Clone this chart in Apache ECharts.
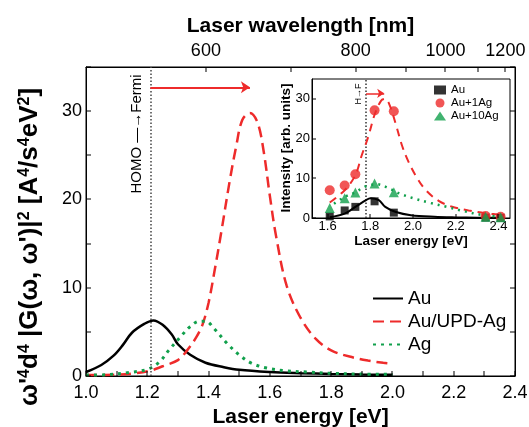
<!DOCTYPE html>
<html><head><meta charset="utf-8">
<script src="https://cdn.jsdelivr.net/npm/echarts@6/dist/echarts.min.js"></script>
<style>html,body{margin:0;padding:0;background:#fff}#c{width:529px;height:427px}</style>
</head><body><div id="c"></div>
<script>
// ---------- main panel data ----------
const auE  = [1.00,1.05,1.09,1.12,1.15,1.19,1.22,1.25,1.28,1.30,1.34,1.39,1.45,1.50,1.60,1.70,1.80,1.90,2.00];
const auV  = [0.45,1.25,2.3,3.5,4.9,5.9,6.3,5.8,4.7,3.6,2.4,1.5,1.0,0.7,0.45,0.32,0.23,0.17,0.13];
const updE = [1.00,1.10,1.16,1.21,1.25,1.30,1.33,1.36,1.38,1.40,1.42,1.44,1.47,1.49,1.51,1.535,1.56,1.58,1.60,1.62,1.655,1.70,1.75,1.80,1.86,1.92,1.97,2.00];
const updV = [0.1,0.15,0.3,0.6,1.1,1.8,2.9,4.4,5.8,8.3,12.0,16.0,22.3,26.0,29.0,29.8,28.7,25.4,20.4,15.9,10.2,6.6,4.2,2.9,2.2,1.75,1.5,1.4];
const agE  = [1.00,1.07,1.14,1.20,1.24,1.27,1.31,1.34,1.37,1.39,1.42,1.46,1.50,1.54,1.59,1.65,1.72,1.80,1.90,2.00];
const agV  = [0.1,0.15,0.4,0.75,1.6,2.9,4.5,5.6,6.2,6.2,5.3,3.7,2.4,1.45,0.9,0.6,0.45,0.3,0.22,0.18];

// ---------- inset data ----------
const insetE   = [1.61,1.68,1.73,1.82,1.91,2.34,2.41];
const insAu    = [0.4,1.9,2.8,4.2,1.35,0.1,0.05];
const insAu1Ag = [7.0,8.2,11.0,27.1,26.9,0.5,0.3];
const insAu10Ag= [2.5,5.0,6.4,8.7,6.5,0.3,0.2];
const fitAuE   = [1.61,1.68,1.73,1.78,1.80,1.84,1.87,1.92,1.99,2.10,2.20,2.30,2.41];
const fitAuV   = [0.2,1.1,2.8,4.5,5.0,4.5,2.8,1.5,0.7,0.3,0.15,0.08,0.05];
const fit1E    = [1.61,1.68,1.73,1.76,1.79,1.82,1.85,1.87,1.89,1.92,1.95,1.98,2.02,2.06,2.12,2.18,2.26,2.34,2.43];
const fit1V    = [3.9,7.0,10.8,15.8,20.4,26.0,29.5,30.0,28.5,23.5,18.0,14.0,10.0,7.0,4.3,2.9,1.9,1.2,0.7];
const fit10E   = [1.63,1.68,1.73,1.78,1.83,1.89,1.94,2.00,2.08,2.16,2.24,2.32,2.41];
const fit10V   = [3.6,5.3,6.5,8.0,8.5,7.4,6.1,5.0,3.8,2.8,1.7,0.8,0.3];

// ---------- axes: ranges, ticks, labels ----------
const mainXMin = 1.0, mainXMax = 2.4, mainYMin = 0, mainYMax = 35;
const mainXTicks = [1.0,1.1,1.2,1.3,1.4,1.5,1.6,1.7,1.8,1.9,2.0,2.1,2.2,2.3,2.4];
const mainYTicks = [0,5,10,15,20,25,30,35];
const wavelengthTicks  = [600,700,800,900,1000,1100,1200];
const wavelengthLabels = [600,800,1000,1200];
const insetXMin = 1.527, insetXMax = 2.454, insetYMin = 0, insetYMax = 35;
const insetXLabels = [1.6,1.8,2.0,2.2,2.4];
const insetYTicks  = [0,10,20,30];

const fermiMain = 1.21, arrowMainY = 32.7, arrowMainEnd = 1.535;
const fermiInset = 1.78, arrowInsetY = 31.4, arrowInsetEnd = 1.865;
const HC = 1239.84;

const RED = '#ee2b2b', GREEN = '#11a04c', FONT = 'Arial, "Liberation Sans", Helvetica, sans-serif';
const zip = (a, b) => a.map((x, i) => [x, b[i]]);

const chart = echarts.init(document.getElementById('c'), null, {renderer: 'canvas'});
const line = () => ({show: true, onZero: false, lineStyle: {color: '#000', width: 1}});
const noTick = {show: false};

const texts = [
  {id: 't0', type: 'text', x: 30, y: 247, rotation: Math.PI / 2, z: 10,
   style: {text: "ω'{s|4}d{s|4} |G(ω, ω')|{s|2} [A{s|4}/s{s|4}eV{s|2}]", fill: '#000',
     font: 'bold 26px ' + FONT, align: 'center', verticalAlign: 'middle',
     rich: {s: {fontSize: 16, fontWeight: 'bold', fontFamily: FONT, verticalAlign: 'top', fill: '#000'}}}},
  {id: 't1', type: 'text', x: 137, y: 134, rotation: Math.PI / 2, z: 10,
   style: {text: 'HOMO \u2014\u2192Fermi', fill: '#000', font: '15px ' + FONT, align: 'center', verticalAlign: 'middle'}},
  {id: 't2', type: 'text', x: 286, y: 148, rotation: Math.PI / 2, z: 10,
   style: {text: 'Intensity [arb. units]', fill: '#000', font: 'bold 13.5px ' + FONT, align: 'center', verticalAlign: 'middle'}},
  {id: 't3', type: 'text', x: 359, y: 94, rotation: Math.PI / 2, z: 10,
   style: {text: 'H\u2192F', fill: '#000', font: '9px ' + FONT, align: 'center', verticalAlign: 'middle'}}
];

chart.setOption({
  animation: false,
  grid: [
    {left: 86, top: 67, width: 429, height: 309, show: true, borderColor: '#000', borderWidth: 1,
     containLabel: false, outerBoundsMode: 'none'},
    {left: 312, top: 79, width: 198, height: 139, show: true, borderColor: '#000', borderWidth: 1, backgroundColor: '#fff',
     containLabel: false, outerBoundsMode: 'none'}
  ],
  xAxis: [
    {gridIndex: 0, type: 'value', position: 'bottom', min: mainXMin, max: mainXMax, interval: 0.2, axisLine: line(),
     axisTick: noTick,
     axisLabel: {fontSize: 18, fontFamily: FONT, color: '#000', margin: 8, formatter: v => v.toFixed(1)},
     splitLine: {show: false},
     name: 'Laser energy [eV]', nameLocation: 'middle', nameGap: 31,
     nameTextStyle: {fontSize: 21, fontWeight: 'bold', fontFamily: FONT, color: '#000'}},
    {gridIndex: 0, type: 'value', position: 'top', inverse: true, min: 1.0, max: 2.48, axisLine: line(),
     axisTick: noTick,
     axisLabel: {customValues: wavelengthLabels.map(l => HC / l), fontSize: 18, fontFamily: FONT, color: '#000', margin: 7,
                 formatter: v => String(Math.round(HC / v))},
     splitLine: {show: false},
     name: 'Laser wavelength [nm]', nameLocation: 'middle', nameGap: 25,
     nameTextStyle: {fontSize: 21, fontWeight: 'bold', fontFamily: FONT, color: '#000'}},
    {gridIndex: 1, type: 'value', min: insetXMin, max: insetXMax, axisLine: line(),
     axisTick: noTick,
     axisLabel: {customValues: insetXLabels, fontSize: 13, fontFamily: FONT, color: '#000', margin: 2, formatter: v => v.toFixed(1)},
     splitLine: {show: false},
     name: 'Laser energy [eV]', nameLocation: 'middle', nameGap: 16,
     nameTextStyle: {fontSize: 13.5, fontWeight: 'bold', fontFamily: FONT, color: '#000'}}
  ],
  yAxis: [
    {gridIndex: 0, type: 'value', min: mainYMin, max: mainYMax, interval: 10, axisLine: line(),
     axisTick: noTick,
     axisLabel: {fontSize: 18, fontFamily: FONT, color: '#000', margin: 4, showMaxLabel: false},
     splitLine: {show: false}},
    {gridIndex: 0, type: 'value', position: 'right', min: mainYMin, max: mainYMax, interval: 10, axisLine: line(),
     axisTick: noTick, axisLabel: {show: false}, splitLine: {show: false}},
    {gridIndex: 1, type: 'value', min: insetYMin, max: insetYMax, interval: 10, axisLine: line(),
     axisTick: noTick,
     axisLabel: {fontSize: 13, fontFamily: FONT, color: '#000', margin: 2, showMaxLabel: false},
     splitLine: {show: false}}
  ],
  legend: [
    {data: ['Au', 'Au/UPD-Ag', 'Ag'], orient: 'vertical', left: 372, top: 289, padding: 0,
     itemWidth: 30, itemHeight: 14, itemGap: 4, itemStyle: {opacity: 0},
     textStyle: {fontSize: 19, fontFamily: FONT, color: '#000'}, selectedMode: false},
    {data: ['Au (inset)', 'Au+1Ag', 'Au+10Ag'], orient: 'vertical', left: 434, top: 84, padding: 0, z: 8,
     itemWidth: 12, itemHeight: 9, itemGap: 1, textStyle: {fontSize: 11.5, fontFamily: FONT, color: '#000'}, selectedMode: false,
     formatter: n => n === 'Au (inset)' ? 'Au' : n}
  ],
  series: [
    {name: 'Au', type: 'line', xAxisIndex: 0, yAxisIndex: 0, data: zip(auE, auV), smooth: 0.35, symbol: 'none',
     lineStyle: {color: '#000', width: 2.5}, itemStyle: {color: '#000'},
     markLine: {silent: true, symbol: 'none', label: {show: false},
       lineStyle: {color: '#444', width: 1.5, type: [1.5, 2]}, data: [{xAxis: fermiMain}]}},
    {name: 'Au/UPD-Ag', type: 'line', xAxisIndex: 0, yAxisIndex: 0, data: zip(updE, updV), smooth: 0.35, symbol: 'none',
     lineStyle: {color: RED, width: 2.5, type: [11, 6]}, itemStyle: {color: RED},
     markLine: {silent: true, symbol: ['none', 'arrow'], symbolSize: 9, label: {show: false},
       lineStyle: {color: RED, width: 2, type: 'solid'},
       data: [[{coord: [fermiMain, arrowMainY]}, {coord: [arrowMainEnd, arrowMainY]}]]}},
    {name: 'Ag', type: 'line', xAxisIndex: 0, yAxisIndex: 0, data: zip(agE, agV), smooth: 0.35, symbol: 'none',
     lineStyle: {color: GREEN, width: 3, type: [3, 5]}, itemStyle: {color: GREEN}},

    {name: 'fitAu', type: 'line', xAxisIndex: 2, yAxisIndex: 2, data: zip(fitAuE, fitAuV), smooth: 0.35, symbol: 'none', z: 7,
     lineStyle: {color: '#000', width: 2}, itemStyle: {color: '#000'},
     markLine: {silent: true, symbol: 'none', label: {show: false},
       lineStyle: {color: '#333', width: 1.5, type: [1.5, 2]}, data: [{xAxis: fermiInset}]}},
    {name: 'fit1Ag', type: 'line', xAxisIndex: 2, yAxisIndex: 2, data: zip(fit1E, fit1V), smooth: 0.35, symbol: 'none', z: 7,
     lineStyle: {color: RED, width: 2, type: [8, 6]}, itemStyle: {color: RED},
     markLine: {silent: true, symbol: ['none', 'arrow'], symbolSize: 7, label: {show: false},
       lineStyle: {color: RED, width: 1.5, type: 'solid'},
       data: [[{coord: [fermiInset, arrowInsetY]}, {coord: [arrowInsetEnd, arrowInsetY]}]]}},
    {name: 'fit10Ag', type: 'line', xAxisIndex: 2, yAxisIndex: 2, data: zip(fit10E, fit10V), smooth: 0.35, symbol: 'none', z: 7,
     lineStyle: {color: GREEN, width: 2.5, type: [2, 5]}, itemStyle: {color: GREEN}},

    {name: 'Au (inset)', type: 'scatter', xAxisIndex: 2, yAxisIndex: 2, data: zip(insetE, insAu), z: 8,
     symbol: 'rect', symbolSize: 8, itemStyle: {color: '#000'}},
    {name: 'Au+1Ag', type: 'scatter', xAxisIndex: 2, yAxisIndex: 2, data: zip(insetE, insAu1Ag), z: 8,
     symbol: 'circle', symbolSize: 10, itemStyle: {color: RED}},
    {name: 'Au+10Ag', type: 'scatter', xAxisIndex: 2, yAxisIndex: 2, data: zip(insetE, insAu10Ag), z: 8,
     symbol: 'triangle', symbolSize: 10, itemStyle: {color: GREEN}}
  ],
  graphic: texts
});

// inside tick marks: positions come from the axes' own scales (convertToPixel)
const toX = (i, v) => chart.convertToPixel({xAxisIndex: i}, v);
const toY = (j, v) => chart.convertToPixel({yAxisIndex: j}, v);
const ticks = [];
let k = 0;
const addTick = (x, y, w, h) => ticks.push({id: 'k' + (k++), type: 'rect', silent: true, z: 50,
  shape: {x, y, width: w, height: h}, style: {fill: '#000'}});
const yBot = toY(0, mainYMin), yTop = toY(0, mainYMax), xL = toX(0, mainXMin), xR = toX(0, mainXMax);
mainXTicks.forEach(v => { const x = Math.round(toX(0, v)); addTick(x - 0.5, yBot - 5, 1, 5); });
mainYTicks.forEach(v => { const y = Math.round(toY(0, v)); addTick(xL, y - 0.5, 5, 1); addTick(xR - 5, y - 0.5, 5, 1); });
wavelengthTicks.forEach(l => { const x = Math.round(toX(1, HC / l)); addTick(x - 0.5, yTop, 1, 5); });
const iyBot = toY(2, insetYMin), ixL = toX(2, insetXMin);
insetXLabels.forEach(v => { const x = Math.round(toX(2, v)); addTick(x - 0.5, iyBot - 4, 1, 4); });
insetYTicks.forEach(v => { const y = Math.round(toY(2, v)); addTick(ixL, y - 0.5, 4, 1); });
chart.setOption({graphic: texts.concat(ticks)});
</script></body></html>
